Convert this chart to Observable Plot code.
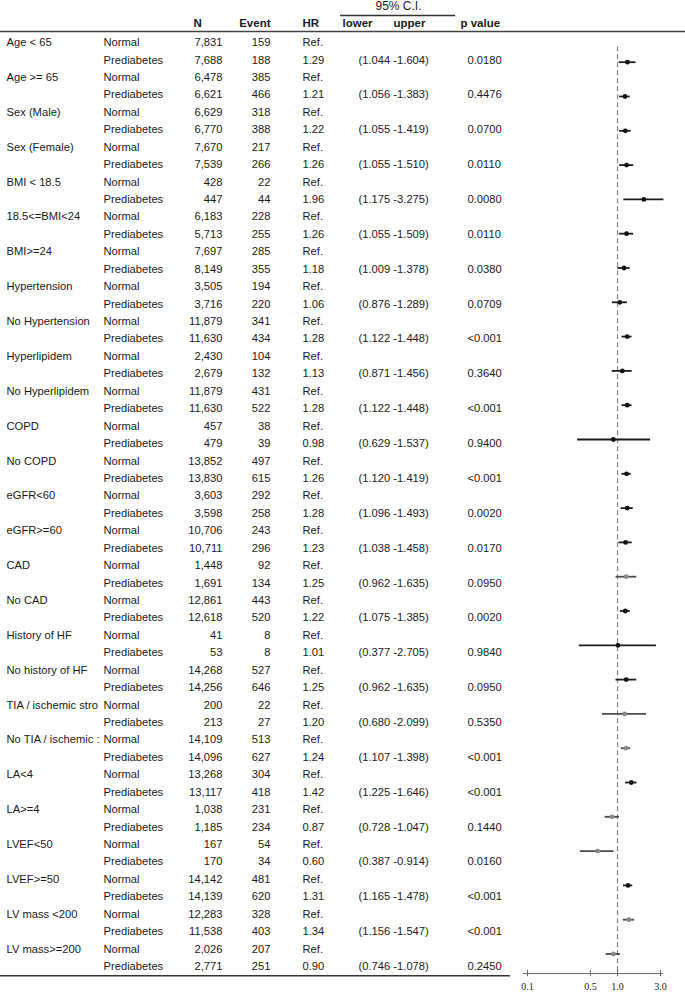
<!DOCTYPE html>
<html><head><meta charset="utf-8">
<script src="https://cdn.jsdelivr.net/npm/d3@7"></script>
<script src="https://cdn.jsdelivr.net/npm/@observablehq/plot@0.6"></script>
<style>
html,body{margin:0;padding:0;background:#fff;}
#wrap{position:relative;width:685px;height:992px;overflow:hidden;}
#wrap svg{position:absolute;top:0;}
#wrap svg.tbl{left:0;}
#wrap svg.frs{left:515px;}
</style>
<script>
// ---------- data ----------
const subgroups = ["Age < 65","Age >= 65","Sex (Male)","Sex (Female)","BMI < 18.5","18.5<=BMI<24","BMI>=24","Hypertension","No Hypertension","Hyperlipidem","No Hyperlipidem","COPD","No COPD","eGFR<60","eGFR>=60","CAD","No CAD","History of HF","No history of HF","TIA / ischemic stro","No TIA / ischemic :","LA<4","LA>=4","LVEF<50","LVEF>=50","LV mass <200","LV mass>=200"];
const arms = ["Normal","Prediabetes"];
const nNormal = ["7,831","6,478","6,629","7,670","428","6,183","7,697","3,505","11,879","2,430","11,879","457","13,852","3,603","10,706","1,448","12,861","41","14,268","200","14,109","13,268","1,038","167","14,142","12,283","2,026"];
const evNormal = [159,385,318,217,22,228,285,194,341,104,431,38,497,292,243,92,443,8,527,22,513,304,231,54,481,328,207];
const nPre = ["7,688","6,621","6,770","7,539","447","5,713","8,149","3,716","11,630","2,679","11,630","479","13,830","3,598","10,711","1,691","12,618","53","14,256","213","14,096","13,117","1,185","170","14,139","11,538","2,771"];
const evPre = [188,466,388,266,44,255,355,220,434,132,522,39,615,258,296,134,520,8,646,27,627,418,234,34,620,403,251];
const hr = [1.29,1.21,1.22,1.26,1.96,1.26,1.18,1.06,1.28,1.13,1.28,0.98,1.26,1.28,1.23,1.25,1.22,1.01,1.25,1.20,1.24,1.42,0.87,0.60,1.31,1.34,0.90];
const ciLo = [1.044,1.056,1.055,1.055,1.175,1.055,1.009,0.876,1.122,0.871,1.122,0.629,1.120,1.096,1.038,0.962,1.075,0.377,0.962,0.680,1.107,1.225,0.728,0.387,1.165,1.156,0.746];
const ciHi = [1.604,1.383,1.419,1.510,3.275,1.509,1.378,1.289,1.448,1.456,1.448,1.537,1.419,1.493,1.458,1.635,1.385,2.705,1.635,2.099,1.398,1.646,1.047,0.914,1.478,1.547,1.078];
const pval = ["0.0180","0.4476","0.0700","0.0110","0.0080","0.0110","0.0380","0.0709","<0.001","0.3640","<0.001","0.9400","<0.001","0.0020","0.0170","0.0950","0.0020","0.9840","0.0950","0.5350","<0.001","<0.001","0.1440","0.0160","<0.001","<0.001","0.2450"];
// values as drawn in the forest panel
const drawnHR = [1.29,1.21,1.22,1.26,1.96,1.26,1.18,1.06,1.28,1.13,1.28,0.90,1.26,1.28,1.23,1.25,1.22,1.01,1.25,1.20,1.24,1.42,0.87,0.60,1.31,1.34,0.90];
const drawnLo = [1.044,1.056,1.055,1.055,1.175,1.055,1.009,0.876,1.122,0.871,1.122,0.36,1.120,1.096,1.038,0.962,1.075,0.377,0.962,0.680,1.107,1.225,0.728,0.387,1.165,1.156,0.746];
const drawnHi = [1.604,1.383,1.419,1.510,3.275,1.509,1.378,1.289,1.448,1.456,1.448,2.33,1.419,1.493,1.458,1.635,1.385,2.705,1.635,2.099,1.398,1.646,1.047,0.914,1.478,1.547,1.078];
const headerLabels = ["N","Event","HR","lower","upper","p value"];
const ciTitle = "95% C.I.";
const axisTicks = [0.1,0.5,1.0,3.0];
const greyMarkers = new Set(["CAD","TIA / ischemic stro","No TIA / ischemic :","LA>=4","LVEF<50","LV mass <200","LV mass>=200"]);

function draw() {
  // ---------- table ----------
  const rows = [];
  subgroups.forEach((g, i) => {
    rows.push({row: 2*i, label: g, arm: arms[0], n: nNormal[i], ev: String(evNormal[i]), hr: "Ref.", ci: "", p: ""});
    rows.push({row: 2*i+1, label: "", arm: arms[1], n: nPre[i], ev: String(evPre[i]), hr: hr[i].toFixed(2),
      ci: `(${ciLo[i].toFixed(3)} -${ciHi[i].toFixed(3)})`, p: pval[i]});
  });
  const sans = "Liberation Sans, Arial, Helvetica, sans-serif";
  const fs = 11.2, ink = "#1a1a1a";
  // columns are anchored at the left edge of the frame and shifted by dx
  const T = (field, dx, anchor) => Plot.text(rows.filter(d => d[field] !== ""),
    {y: "row", text: field, frameAnchor: "left", dx, textAnchor: anchor, fontSize: fs, fill: ink});
  const H = (txt, dx, anchor) => Plot.text([txt],
    {text: d => d, y: -1.1, frameAnchor: "left", dx, textAnchor: anchor, fontSize: 11.5, fontWeight: "bold", fill: ink});

  const table = Plot.plot({
    width: 685, height: 992, margin: 0,
    className: "tbl",
    x: {type: "identity"},
    y: {domain: [0, 53], range: [42, 966], axis: null},
    style: {background: "transparent", fontFamily: sans},
    marks: [
      H(headerLabels[0], 193, "start"),
      H(headerLabels[1], 270, "end"),
      H(headerLabels[2], 302, "start"),
      H(headerLabels[3], 342, "start"),
      H(headerLabels[4], 393, "start"),
      H(headerLabels[5], 460, "start"),
      Plot.text([ciTitle], {text: d => d, y: -2.07, frameAnchor: "left", dx: 398, textAnchor: "middle", fontSize: 12, fill: ink}),
      Plot.ruleY([-1.55], {x1: 340, x2: 455, stroke: "#333", strokeWidth: 1.3}),
      Plot.ruleY([-0.63], {x1: 0, x2: 685, stroke: "#444", strokeWidth: 1.5}),
      Plot.ruleY([53.53], {x1: 0, x2: 510, stroke: "#333", strokeWidth: 1.3}),
      T("label", 6, "start"),
      T("arm", 103, "start"),
      T("n", 222, "end"),
      T("ev", 270, "end"),
      T("hr", 302, "start"),
      T("ci", 358, "start"),
      T("p", 467, "start")
    ]
  });

  // ---------- forest (placed at x = 515 px) ----------
  const forestData = subgroups.map((g, i) => ({g: i, name: g, est: drawnHR[i], lo: drawnLo[i], hi: drawnHi[i], grey: greyMarkers.has(g)}));
  const axisRow = 26.57;
  const forest = Plot.plot({
    width: 170, height: 992, margin: 0,
    className: "frs",
    x: {type: "log", domain: [0.1, 3], range: [12, 145], axis: null},
    y: {domain: [0, 26], range: [61.7, 953.5], axis: null},
    style: {background: "transparent"},
    marks: [
      Plot.ruleX([1], {y1: -0.45, y2: axisRow, stroke: "#8c8c8c", strokeWidth: 1.3, strokeDasharray: "5,3"}),
      Plot.ruleY(forestData, {y: "g", x1: "lo", x2: "hi", stroke: d => d.grey ? "#4a4a4a" : "#1c1c1c", strokeWidth: 1.8}),
      Plot.dot(forestData, {x: "est", y: "g", r: 2.4, fill: d => d.grey ? "#8a8a8a" : "#111", stroke: "none"}),
      Plot.ruleY([axisRow], {x1: 0.0902, x2: 3.24, stroke: "#666", strokeWidth: 1}),
      Plot.ruleX(axisTicks, {x: d => d, y1: axisRow - 0.09, y2: axisRow + 0.09, stroke: "#666", strokeWidth: 1}),
      Plot.text(axisTicks, {x: d => d, y: 26.95, text: d => d.toFixed(1), fontFamily: "Liberation Serif, Times New Roman, serif", fontSize: 10, fill: "#222"})
    ]
  });

  const wrap = document.getElementById("wrap");
  wrap.appendChild(table);
  wrap.appendChild(forest);
}
document.addEventListener("DOMContentLoaded", draw);
</script>
</head><body><div id="wrap"></div></body></html>
